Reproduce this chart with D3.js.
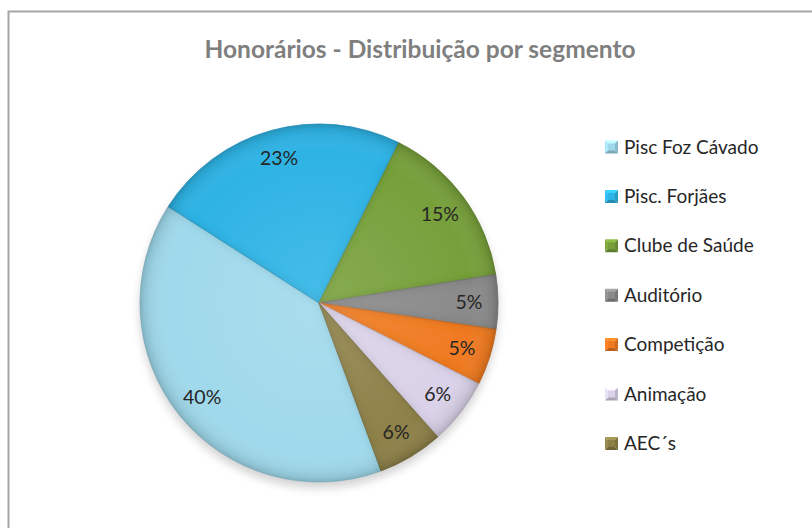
<!DOCTYPE html>
<html><head><meta charset="utf-8">
<script src="https://cdn.jsdelivr.net/npm/d3@7"></script>
<style>html,body{margin:0;padding:0;background:#fff;}svg{display:block;}</style>
</head><body>
<svg id="chart" width="812" height="528"></svg>
<script>
const title = "Honorários - Distribuição por segmento";
const categories = ["Pisc Foz Cávado", "Pisc. Forjães", "Clube de Saúde", "Auditório", "Competição", "Animação", "AEC´s"];
const values = [39.7, 23.3, 15.1, 4.9, 5.1, 6.0, 5.9];
const colors = ["#9FD9EB", "#2EB3E5", "#77A03B", "#8A8A8A", "#F07A22", "#DAD2E8", "#8E8148"];

const svg = d3.select("#chart");
const W = 812, H = 528;
const cx = 319, cy = 303, R = 179;
const startDeg = 159.7;

const defs = svg.append("defs");
const bevel = defs.append("filter").attr("id", "bevel").attr("x", "-10%").attr("y", "-10%").attr("width", "120%").attr("height", "120%");
bevel.append("feGaussianBlur").attr("in", "SourceAlpha").attr("stdDeviation", 4.5).attr("result", "blur");
bevel.append("feComposite").attr("in", "SourceAlpha").attr("in2", "blur").attr("operator", "out").attr("result", "edge");
bevel.append("feFlood").attr("flood-color", "#000").attr("flood-opacity", 0.32).attr("result", "dark");
bevel.append("feComposite").attr("in", "dark").attr("in2", "edge").attr("operator", "in").attr("result", "shadow");
const m = bevel.append("feMerge");
m.append("feMergeNode").attr("in", "SourceGraphic");
m.append("feMergeNode").attr("in", "shadow");

const sh = defs.append("filter").attr("id", "drop").attr("x", "-20%").attr("y", "-20%").attr("width", "140%").attr("height", "140%");
sh.append("feGaussianBlur").attr("stdDeviation", 5);

// chart border
svg.append("rect").attr("x", 8.5).attr("y", 11.5).attr("width", W).attr("height", H)
  .attr("fill", "#fff").attr("stroke", "#A6A6A6").attr("stroke-width", 2);

svg.append("text").attr("x", 420).attr("y", 58).attr("text-anchor", "middle")
  .attr("font-family", "Lato, 'Open Sans', sans-serif").attr("font-weight", "bold")
  .attr("font-size", 24.5).attr("fill", "#7F7F7F").text(title);

const total = d3.sum(values);
const a0 = startDeg * Math.PI / 180;
const pie = d3.pie().sort(null).startAngle(a0).endAngle(a0 + 2 * Math.PI);
const arcs = pie(values);
const arc = d3.arc().innerRadius(0).outerRadius(R);
const labelArc = d3.arc().innerRadius(150).outerRadius(150);

const g = svg.append("g").attr("transform", `translate(${cx},${cy})`);
g.append("circle").attr("cx", 0).attr("cy", 6).attr("r", R).attr("fill", "#000").attr("opacity", 0.18).attr("filter", "url(#drop)");

g.selectAll("path.slice").data(arcs).join("path").attr("class", "slice")
  .attr("d", arc).attr("fill", (d, i) => colors[i])
  .attr("stroke", (d, i) => d3.color(colors[i]).darker(0.3)).attr("stroke-width", 0.8)
  .attr("filter", "url(#bevel)");

// subtle highlight gradient overlay
const rg = defs.append("radialGradient").attr("id", "gloss").attr("cx", 0.5).attr("cy", 0.5).attr("r", 0.5);
rg.append("stop").attr("offset", "0%").attr("stop-color", "#fff").attr("stop-opacity", 0.12);
rg.append("stop").attr("offset", "85%").attr("stop-color", "#fff").attr("stop-opacity", 0.0);
rg.append("stop").attr("offset", "100%").attr("stop-color", "#000").attr("stop-opacity", 0.12);
g.append("circle").attr("r", R).attr("fill", "url(#gloss)").attr("pointer-events", "none");

const fmt = d3.format(".0%");
g.selectAll("text.lbl").data(arcs).join("text").attr("class", "lbl")
  .attr("transform", d => `translate(${labelArc.centroid(d)})`)
  .attr("text-anchor", "middle").attr("dy", "0.35em")
  .attr("font-family", "Lato, 'Open Sans', sans-serif").attr("font-size", 19.5)
  .attr("fill", "#262626").text(d => fmt(d.value / total));

// legend
const lg = svg.append("g").attr("transform", "translate(605,147)");
const rowH = 49.4, ms = 13;
const items = lg.selectAll("g").data(categories).join("g")
  .attr("transform", (d, i) => `translate(0,${i * rowH})`);
items.each(function (d, i) {
  const s = d3.select(this);
  const c = d3.color(colors[i]);
  const h = ms / 2;
  const tri = (pts, col) => s.append("path").attr("d", "M" + pts.map(p => p.join(",")).join("L") + "Z").attr("fill", col);
  tri([[0, -h], [ms, -h], [h, 0]], c.brighter(0.5));
  tri([[0, -h], [0, h], [h, 0]], c.brighter(0.2));
  tri([[ms, -h], [ms, h], [h, 0]], c.darker(0.4));
  tri([[0, h], [ms, h], [h, 0]], c.darker(0.7));
  s.append("rect").attr("x", 3).attr("y", -h + 3).attr("width", ms - 6).attr("height", ms - 6).attr("fill", c);
});
items.append("text").attr("x", 19).attr("dy", "0.35em")
  .attr("font-family", "Lato, 'Open Sans', sans-serif").attr("font-size", 19)
  .attr("fill", "#262626").text(d => d);
</script>
</body></html>
